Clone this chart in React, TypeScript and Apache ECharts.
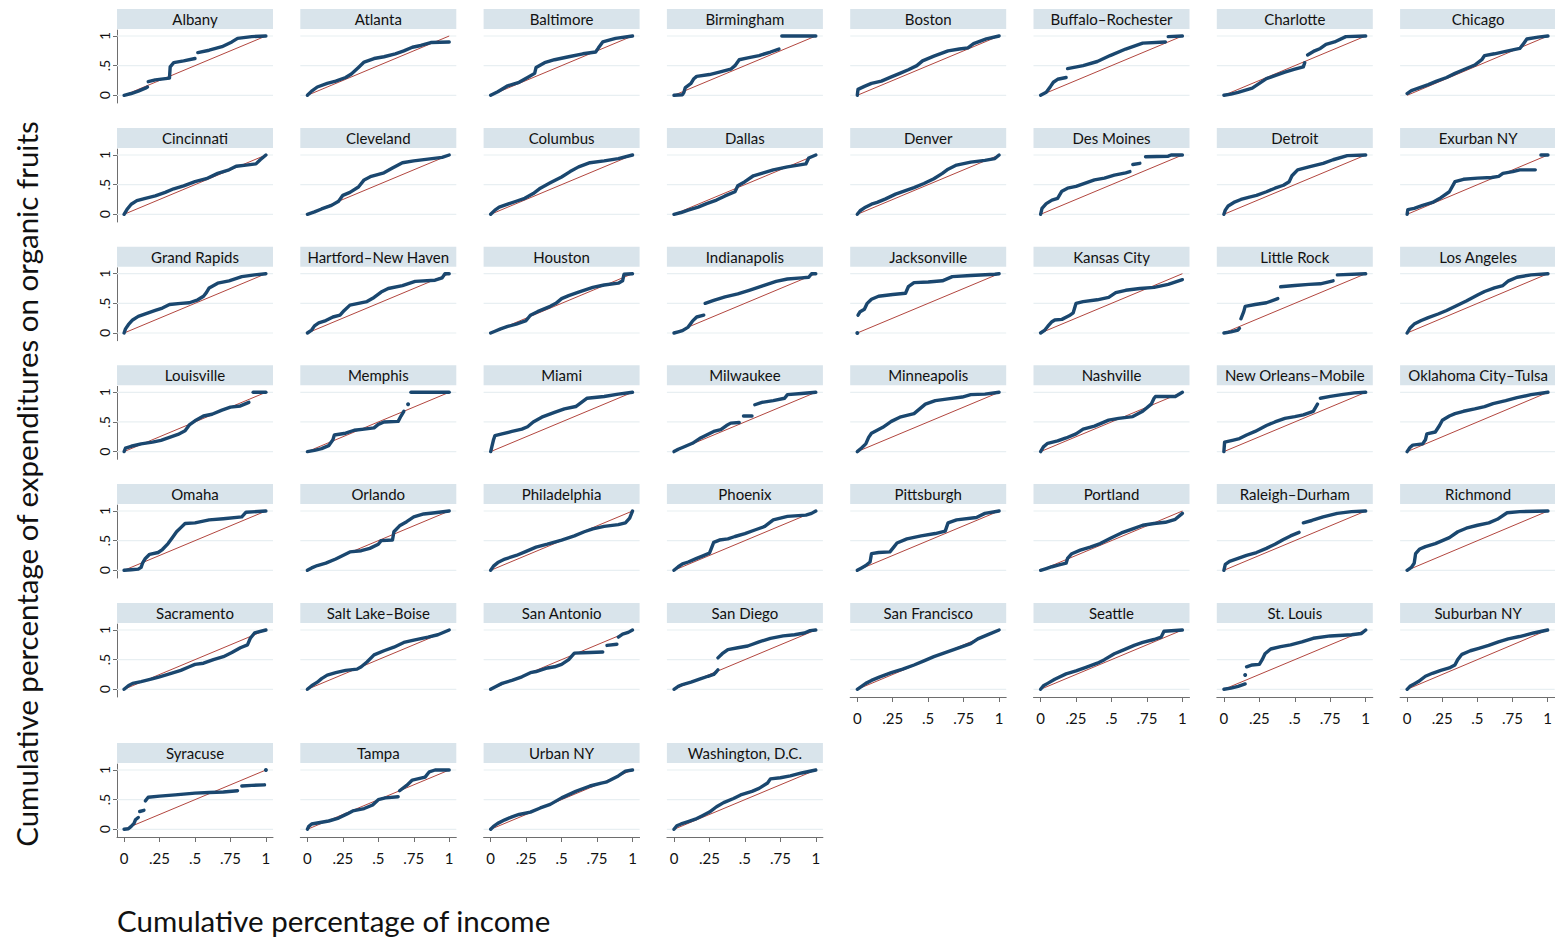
import React, { useEffect, useRef } from 'react';
import * as echarts from 'echarts';

type Pt = number[] | null;

const CITIES = [
  'Albany', 'Atlanta', 'Baltimore', 'Birmingham', 'Boston', 'Buffalo–Rochester', 'Charlotte', 'Chicago',
  'Cincinnati', 'Cleveland', 'Columbus', 'Dallas', 'Denver', 'Des Moines', 'Detroit', 'Exurban NY',
  'Grand Rapids', 'Hartford–New Haven', 'Houston', 'Indianapolis', 'Jacksonville', 'Kansas City', 'Little Rock', 'Los Angeles',
  'Louisville', 'Memphis', 'Miami', 'Milwaukee', 'Minneapolis', 'Nashville', 'New Orleans–Mobile', 'Oklahoma City–Tulsa',
  'Omaha', 'Orlando', 'Philadelphia', 'Phoenix', 'Pittsburgh', 'Portland', 'Raleigh–Durham', 'Richmond',
  'Sacramento', 'Salt Lake–Boise', 'San Antonio', 'San Diego', 'San Francisco', 'Seattle', 'St. Louis', 'Suburban NY',
  'Syracuse', 'Tampa', 'Urban NY', 'Washington, D.C.',
];

// null = visible gap in the curve
const ALBANY: Pt[] = [[0,0],[0.05,0.03],[0.1,0.07],[0.15,0.12],[0.165,0.14],null,[0.17,0.23],[0.22,0.26],[0.32,0.29],[0.325,0.48],[0.35,0.55],[0.42,0.58],[0.5,0.62],null,[0.52,0.72],[0.6,0.76],[0.69,0.82],[0.76,0.9],[0.8,0.96],[0.9,0.99],[1,1]];
const ATLANTA: Pt[] = [[0,0],[0.03,0.07],[0.07,0.14],[0.14,0.2],[0.2,0.24],[0.27,0.3],[0.31,0.36],[0.36,0.47],[0.4,0.56],[0.47,0.62],[0.54,0.65],[0.62,0.7],[0.68,0.75],[0.74,0.81],[0.8,0.84],[0.87,0.89],[1,0.9]];
const BALTIMORE: Pt[] = [[0,0],[0.05,0.06],[0.12,0.16],[0.2,0.22],[0.26,0.3],[0.31,0.37],[0.32,0.47],[0.38,0.55],[0.45,0.6],[0.55,0.65],[0.65,0.7],[0.74,0.73],[0.76,0.8],[0.79,0.9],[0.88,0.96],[1,1]];
const BIRMINGHAM: Pt[] = [[0,0],[0.06,0.01],[0.07,0.05],[0.08,0.13],[0.12,0.2],[0.14,0.28],[0.16,0.32],[0.25,0.35],[0.32,0.39],[0.4,0.44],[0.43,0.5],[0.46,0.6],[0.52,0.63],[0.6,0.67],[0.68,0.73],[0.74,0.78],null,[0.76,1],[1,1]];
const BOSTON: Pt[] = [[0,0],[0.005,0.1],[0.05,0.15],[0.1,0.2],[0.17,0.24],[0.24,0.31],[0.3,0.37],[0.36,0.43],[0.42,0.5],[0.46,0.58],[0.54,0.66],[0.64,0.75],[0.72,0.78],[0.78,0.8],[0.82,0.87],[0.91,0.95],[1,1]];
const BUFFALO: Pt[] = [[0,0],[0.04,0.05],[0.07,0.15],[0.09,0.22],[0.12,0.27],[0.18,0.3],null,[0.19,0.45],[0.3,0.5],[0.4,0.57],[0.49,0.67],[0.6,0.78],[0.72,0.88],[0.88,0.9],null,[0.9,0.99],[1,1]];
const CHARLOTTE: Pt[] = [[0,0],[0.05,0.02],[0.1,0.05],[0.2,0.12],[0.25,0.2],[0.3,0.28],[0.37,0.34],[0.43,0.39],[0.5,0.44],[0.56,0.48],[0.57,0.55],null,[0.59,0.68],[0.64,0.75],[0.68,0.79],[0.72,0.86],[0.78,0.9],[0.86,0.99],[1,1]];
const CHICAGO: Pt[] = [[0,0.03],[0.03,0.08],[0.08,0.12],[0.15,0.18],[0.21,0.24],[0.28,0.3],[0.34,0.37],[0.4,0.43],[0.48,0.51],[0.53,0.6],[0.55,0.67],[0.62,0.7],[0.7,0.74],[0.8,0.79],[0.82,0.85],[0.85,0.95],[0.93,0.98],[1,1]];
const CINCINNATI: Pt[] = [[0,0],[0.02,0.08],[0.05,0.17],[0.09,0.23],[0.15,0.27],[0.22,0.31],[0.29,0.37],[0.35,0.43],[0.42,0.48],[0.5,0.55],[0.58,0.6],[0.66,0.69],[0.74,0.75],[0.79,0.81],[0.86,0.83],[0.93,0.85],[0.96,0.92],[1,1]];
const CLEVELAND: Pt[] = [[0,0],[0.05,0.04],[0.1,0.09],[0.17,0.15],[0.22,0.22],[0.25,0.32],[0.3,0.37],[0.36,0.46],[0.4,0.58],[0.45,0.64],[0.54,0.7],[0.6,0.78],[0.67,0.87],[0.75,0.9],[0.85,0.93],[0.95,0.96],[1,1]];
const COLUMBUS: Pt[] = [[0,0],[0.03,0.07],[0.06,0.12],[0.12,0.17],[0.18,0.22],[0.24,0.27],[0.3,0.35],[0.35,0.44],[0.42,0.53],[0.5,0.63],[0.56,0.72],[0.62,0.8],[0.7,0.87],[0.8,0.9],[0.9,0.94],[1,1]];
const DALLAS: Pt[] = [[0,0],[0.05,0.03],[0.1,0.07],[0.17,0.12],[0.23,0.18],[0.3,0.24],[0.36,0.31],[0.43,0.38],[0.45,0.48],[0.5,0.55],[0.56,0.65],[0.63,0.7],[0.7,0.75],[0.8,0.8],[0.93,0.85],[0.95,0.95],[1,1]];
const DENVER: Pt[] = [[0,0],[0.02,0.06],[0.05,0.11],[0.1,0.17],[0.14,0.2],[0.2,0.26],[0.27,0.34],[0.34,0.4],[0.4,0.45],[0.47,0.52],[0.54,0.6],[0.6,0.69],[0.64,0.76],[0.7,0.83],[0.8,0.88],[0.9,0.91],[0.97,0.94],[1,1]];
const DES_MOINES: Pt[] = [[0,0],[0.01,0.1],[0.04,0.18],[0.08,0.24],[0.12,0.27],[0.15,0.39],[0.19,0.44],[0.25,0.47],[0.32,0.53],[0.38,0.58],[0.45,0.61],[0.52,0.66],[0.6,0.7],[0.63,0.72],null,[0.65,0.84],[0.7,0.86],null,[0.74,0.97],[0.9,0.98],[0.92,1],[1,1]];
const DETROIT: Pt[] = [[0,0],[0.01,0.07],[0.03,0.14],[0.07,0.2],[0.12,0.25],[0.18,0.29],[0.23,0.32],[0.3,0.38],[0.36,0.44],[0.42,0.49],[0.46,0.55],[0.48,0.65],[0.52,0.75],[0.6,0.8],[0.7,0.86],[0.77,0.92],[0.87,0.99],[1,1]];
const EXURBAN_NY: Pt[] = [[0,0],[0.005,0.08],[0.05,0.1],[0.11,0.15],[0.18,0.2],[0.24,0.28],[0.3,0.38],[0.34,0.55],[0.4,0.59],[0.5,0.61],[0.6,0.62],[0.65,0.64],[0.68,0.69],[0.75,0.72],[0.8,0.75],[0.91,0.75],null,[0.95,1],[1,1]];
const GRAND_RAPIDS: Pt[] = [[0,0],[0.01,0.07],[0.03,0.14],[0.06,0.22],[0.1,0.28],[0.16,0.33],[0.22,0.38],[0.27,0.42],[0.32,0.48],[0.4,0.5],[0.46,0.51],[0.52,0.56],[0.56,0.62],[0.58,0.68],[0.6,0.76],[0.66,0.84],[0.74,0.88],[0.83,0.95],[0.92,0.98],[1,1]];
const HARTFORD: Pt[] = [[0,0],[0.03,0.05],[0.05,0.12],[0.08,0.17],[0.13,0.21],[0.18,0.27],[0.23,0.3],[0.26,0.38],[0.3,0.47],[0.36,0.5],[0.42,0.53],[0.47,0.6],[0.52,0.69],[0.57,0.75],[0.67,0.8],[0.76,0.87],[0.9,0.89],[0.95,0.93],[0.97,1],[1,1]];
const HOUSTON: Pt[] = [[0,0],[0.03,0.03],[0.07,0.07],[0.12,0.11],[0.18,0.15],[0.25,0.21],[0.28,0.3],[0.33,0.36],[0.42,0.45],[0.46,0.5],[0.5,0.58],[0.55,0.63],[0.62,0.69],[0.72,0.77],[0.8,0.81],[0.9,0.84],[0.93,0.88],[0.94,0.99],[1,1]];
const INDIANAPOLIS: Pt[] = [[0,0],[0.03,0.02],[0.06,0.04],[0.1,0.1],[0.13,0.2],[0.16,0.27],[0.21,0.3],null,[0.22,0.5],[0.28,0.55],[0.36,0.61],[0.45,0.66],[0.53,0.72],[0.63,0.8],[0.72,0.87],[0.8,0.91],[0.9,0.93],[0.95,0.94],[0.97,1],[1,1]];
const JACKSONVILLE: Pt[] = [[0,0],null,[0.005,0.3],[0.02,0.36],[0.05,0.4],[0.07,0.5],[0.1,0.57],[0.15,0.62],[0.25,0.65],[0.34,0.67],[0.36,0.78],[0.4,0.85],[0.5,0.86],[0.6,0.88],[0.67,0.95],[0.8,0.97],[0.97,0.99],[1,1]];
const KANSAS_CITY: Pt[] = [[0,0],[0.03,0.05],[0.05,0.11],[0.08,0.19],[0.1,0.22],[0.15,0.23],[0.2,0.29],[0.23,0.34],[0.25,0.5],[0.3,0.53],[0.4,0.56],[0.48,0.6],[0.53,0.68],[0.6,0.72],[0.7,0.75],[0.8,0.77],[0.9,0.82],[1,0.9]];
const LITTLE_ROCK: Pt[] = [[0,0],[0.05,0.02],[0.1,0.05],[0.11,0.08],null,[0.12,0.24],[0.14,0.36],[0.15,0.45],[0.22,0.48],[0.3,0.51],[0.38,0.58],null,[0.4,0.78],[0.5,0.8],[0.6,0.82],[0.68,0.83],[0.77,0.88],null,[0.8,0.98],[1,1]];
const LOS_ANGELES: Pt[] = [[0,0],[0.02,0.08],[0.05,0.15],[0.1,0.21],[0.15,0.26],[0.22,0.32],[0.28,0.38],[0.35,0.46],[0.42,0.54],[0.5,0.64],[0.55,0.7],[0.62,0.76],[0.68,0.8],[0.72,0.88],[0.78,0.94],[0.88,0.98],[1,1]];
const LOUISVILLE: Pt[] = [[0,0],[0.01,0.06],[0.05,0.09],[0.12,0.13],[0.2,0.16],[0.26,0.19],[0.32,0.24],[0.38,0.29],[0.43,0.35],[0.46,0.45],[0.5,0.52],[0.56,0.6],[0.62,0.63],[0.69,0.7],[0.75,0.75],[0.82,0.77],[0.88,0.83],null,[0.91,1],[1,1]];
const MEMPHIS: Pt[] = [[0,0],[0.05,0.02],[0.1,0.05],[0.15,0.1],[0.18,0.2],[0.19,0.28],[0.27,0.31],[0.33,0.36],[0.4,0.38],[0.47,0.4],[0.5,0.46],[0.54,0.5],[0.64,0.51],[0.66,0.6],[0.68,0.68],null,[0.71,0.8],null,[0.73,1],[1,1]];
const MIAMI: Pt[] = [[0,0],[0.01,0.1],[0.02,0.2],[0.03,0.27],[0.08,0.3],[0.15,0.34],[0.22,0.38],[0.26,0.42],[0.3,0.5],[0.36,0.58],[0.45,0.66],[0.52,0.72],[0.6,0.76],[0.64,0.83],[0.68,0.9],[0.8,0.93],[0.9,0.97],[1,1]];
const MILWAUKEE: Pt[] = [[0,0],[0.03,0.04],[0.06,0.07],[0.13,0.14],[0.18,0.22],[0.23,0.28],[0.28,0.34],[0.33,0.37],[0.37,0.44],[0.4,0.48],[0.46,0.49],null,[0.49,0.6],[0.55,0.6],null,[0.57,0.79],[0.62,0.83],[0.7,0.86],[0.78,0.9],[0.8,0.96],[0.9,0.98],[1,1]];
const MINNEAPOLIS: Pt[] = [[0,0],[0.03,0.06],[0.06,0.13],[0.08,0.24],[0.1,0.31],[0.14,0.36],[0.18,0.41],[0.24,0.51],[0.3,0.58],[0.4,0.64],[0.44,0.72],[0.48,0.8],[0.55,0.86],[0.64,0.89],[0.74,0.92],[0.8,0.96],[0.9,0.97],[1,1]];
const NASHVILLE: Pt[] = [[0,0],[0.02,0.08],[0.05,0.14],[0.12,0.18],[0.18,0.23],[0.25,0.3],[0.3,0.38],[0.38,0.43],[0.48,0.53],[0.55,0.56],[0.65,0.59],[0.72,0.68],[0.78,0.8],[0.8,0.9],[0.81,0.93],[0.95,0.93],[1,1]];
const NEW_ORLEANS: Pt[] = [[0,0],[0.005,0.16],[0.06,0.19],[0.11,0.22],[0.16,0.28],[0.22,0.34],[0.3,0.44],[0.36,0.5],[0.43,0.56],[0.5,0.59],[0.56,0.62],[0.63,0.68],[0.66,0.8],null,[0.68,0.9],[0.75,0.93],[0.83,0.96],[0.92,0.99],[1,1]];
const OKLAHOMA: Pt[] = [[0,0],[0.02,0.07],[0.04,0.11],[0.11,0.13],[0.13,0.2],[0.14,0.3],[0.2,0.33],[0.23,0.44],[0.25,0.53],[0.3,0.6],[0.34,0.64],[0.4,0.68],[0.48,0.72],[0.55,0.76],[0.61,0.81],[0.7,0.86],[0.78,0.91],[0.88,0.96],[1,1]];
const OMAHA: Pt[] = [[0,0],[0.05,0.01],[0.1,0.02],[0.12,0.05],[0.13,0.12],[0.15,0.2],[0.18,0.27],[0.24,0.3],[0.27,0.35],[0.31,0.45],[0.34,0.55],[0.37,0.65],[0.4,0.72],[0.43,0.79],[0.5,0.8],[0.6,0.85],[0.7,0.87],[0.83,0.9],[0.86,0.98],[1,1]];
const ORLANDO: Pt[] = [[0,0],[0.03,0.04],[0.07,0.08],[0.13,0.12],[0.2,0.19],[0.25,0.25],[0.3,0.31],[0.38,0.33],[0.44,0.37],[0.5,0.44],[0.52,0.5],[0.6,0.51],[0.61,0.65],[0.65,0.75],[0.7,0.82],[0.75,0.9],[0.82,0.95],[0.9,0.97],[1,1]];
const PHILADELPHIA: Pt[] = [[0,0],[0.02,0.07],[0.05,0.13],[0.1,0.19],[0.18,0.25],[0.25,0.32],[0.32,0.39],[0.4,0.44],[0.5,0.51],[0.59,0.58],[0.66,0.65],[0.72,0.7],[0.8,0.74],[0.9,0.77],[0.95,0.8],[0.98,0.88],[1,1]];
const PHOENIX: Pt[] = [[0,0],[0.03,0.06],[0.06,0.11],[0.1,0.14],[0.16,0.2],[0.2,0.24],[0.25,0.29],[0.26,0.35],[0.28,0.47],[0.32,0.51],[0.38,0.53],[0.43,0.57],[0.5,0.62],[0.57,0.68],[0.64,0.74],[0.7,0.85],[0.8,0.91],[0.93,0.93],[0.97,0.96],[1,1]];
const PITTSBURGH: Pt[] = [[0,0],[0.03,0.04],[0.06,0.08],[0.09,0.14],[0.1,0.28],[0.15,0.3],[0.23,0.31],[0.26,0.4],[0.28,0.46],[0.35,0.53],[0.45,0.58],[0.55,0.62],[0.62,0.66],[0.64,0.8],[0.7,0.85],[0.84,0.89],[0.9,0.96],[1,1]];
const PORTLAND: Pt[] = [[0,0],[0.04,0.03],[0.08,0.06],[0.13,0.09],[0.18,0.12],[0.19,0.2],[0.22,0.28],[0.28,0.34],[0.35,0.39],[0.42,0.45],[0.5,0.55],[0.57,0.63],[0.65,0.7],[0.72,0.76],[0.8,0.79],[0.88,0.81],[0.95,0.86],[1,0.96]];
const RALEIGH: Pt[] = [[0,0],[0.01,0.1],[0.04,0.15],[0.1,0.2],[0.16,0.25],[0.23,0.3],[0.3,0.37],[0.36,0.44],[0.42,0.52],[0.47,0.58],[0.53,0.64],null,[0.56,0.8],[0.62,0.84],[0.7,0.9],[0.8,0.96],[0.9,0.99],[1,1]];
const RICHMOND: Pt[] = [[0,0],[0.03,0.05],[0.05,0.12],[0.06,0.28],[0.09,0.36],[0.13,0.4],[0.2,0.45],[0.25,0.5],[0.3,0.55],[0.36,0.65],[0.42,0.71],[0.5,0.76],[0.58,0.8],[0.64,0.86],[0.71,0.97],[0.8,0.99],[1,1]];
const SACRAMENTO: Pt[] = [[0,0],[0.03,0.06],[0.06,0.1],[0.12,0.13],[0.19,0.17],[0.25,0.21],[0.32,0.26],[0.4,0.32],[0.46,0.38],[0.5,0.42],[0.56,0.44],[0.63,0.5],[0.7,0.55],[0.76,0.62],[0.82,0.7],[0.87,0.75],[0.89,0.86],[0.92,0.95],[1,1]];
const SALT_LAKE: Pt[] = [[0,0],[0.03,0.06],[0.07,0.12],[0.1,0.18],[0.14,0.24],[0.2,0.28],[0.27,0.32],[0.35,0.34],[0.38,0.38],[0.42,0.46],[0.47,0.58],[0.54,0.65],[0.61,0.71],[0.68,0.79],[0.75,0.83],[0.85,0.88],[0.92,0.92],[1,1]];
const SAN_ANTONIO: Pt[] = [[0,0],[0.03,0.04],[0.08,0.1],[0.15,0.15],[0.22,0.21],[0.28,0.28],[0.32,0.3],[0.4,0.36],[0.45,0.38],[0.5,0.42],[0.55,0.5],[0.59,0.61],[0.7,0.62],[0.79,0.63],null,[0.82,0.74],[0.89,0.76],null,[0.9,0.88],[0.93,0.93],[0.97,0.96],[1,1]];
const SAN_DIEGO: Pt[] = [[0,0],[0.03,0.05],[0.06,0.08],[0.12,0.12],[0.18,0.17],[0.24,0.22],[0.28,0.25],[0.3,0.3],[0.31,0.33],null,[0.31,0.53],[0.34,0.6],[0.38,0.67],[0.45,0.7],[0.52,0.73],[0.6,0.8],[0.68,0.86],[0.77,0.9],[0.85,0.92],[0.92,0.95],[0.96,0.99],[1,1]];
const SAN_FRANCISCO: Pt[] = [[0,0],[0.03,0.05],[0.06,0.1],[0.1,0.15],[0.16,0.21],[0.24,0.28],[0.32,0.34],[0.4,0.41],[0.47,0.48],[0.54,0.55],[0.6,0.6],[0.67,0.66],[0.74,0.72],[0.8,0.77],[0.85,0.85],[0.93,0.93],[1,1]];
const SEATTLE: Pt[] = [[0,0],[0.02,0.06],[0.05,0.1],[0.1,0.17],[0.18,0.26],[0.25,0.31],[0.32,0.37],[0.4,0.44],[0.45,0.5],[0.52,0.6],[0.59,0.67],[0.66,0.74],[0.72,0.79],[0.8,0.84],[0.85,0.88],[0.87,0.98],[1,1]];
const ST_LOUIS: Pt[] = [[0,0],[0.05,0.02],[0.1,0.05],[0.15,0.09],null,[0.15,0.24],null,[0.16,0.38],[0.2,0.41],[0.25,0.42],[0.27,0.5],[0.29,0.6],[0.33,0.68],[0.4,0.72],[0.47,0.75],[0.55,0.8],[0.63,0.86],[0.75,0.9],[0.9,0.92],[0.97,0.94],[1,1]];
const SUBURBAN_NY: Pt[] = [[0,0],[0.02,0.05],[0.05,0.09],[0.08,0.13],[0.13,0.22],[0.18,0.27],[0.24,0.32],[0.3,0.36],[0.34,0.41],[0.36,0.5],[0.39,0.59],[0.45,0.65],[0.51,0.69],[0.58,0.74],[0.65,0.8],[0.72,0.85],[0.8,0.89],[0.9,0.95],[1,1]];
const SYRACUSE: Pt[] = [[0,0],[0.03,0.01],[0.05,0.05],[0.07,0.1],[0.08,0.16],[0.1,0.2],null,[0.11,0.3],[0.14,0.32],null,[0.15,0.48],[0.17,0.54],[0.25,0.56],[0.36,0.58],[0.5,0.61],[0.6,0.62],[0.7,0.63],[0.8,0.65],null,[0.83,0.73],[0.9,0.74],[0.99,0.75],null,[1,1]];
const TAMPA: Pt[] = [[0,0],[0.01,0.05],[0.03,0.09],[0.08,0.11],[0.15,0.14],[0.22,0.19],[0.28,0.26],[0.32,0.31],[0.4,0.35],[0.46,0.41],[0.5,0.5],[0.55,0.53],[0.64,0.55],null,[0.65,0.65],[0.7,0.74],[0.74,0.83],[0.83,0.88],[0.86,0.97],[0.9,1],[1,1]];
const URBAN_NY: Pt[] = [[0,0],[0.02,0.05],[0.05,0.1],[0.1,0.16],[0.15,0.21],[0.2,0.25],[0.28,0.29],[0.35,0.36],[0.42,0.42],[0.5,0.53],[0.6,0.64],[0.7,0.73],[0.78,0.78],[0.82,0.8],[0.9,0.9],[0.95,0.98],[1,1]];
const WASHINGTON: Pt[] = [[0,0],[0.02,0.06],[0.05,0.09],[0.1,0.13],[0.15,0.17],[0.2,0.23],[0.25,0.29],[0.3,0.38],[0.35,0.45],[0.42,0.52],[0.47,0.58],[0.55,0.64],[0.6,0.69],[0.66,0.78],[0.68,0.85],[0.75,0.87],[0.82,0.9],[0.9,0.95],[1,1]];

const CURVES: Pt[][] = [
  ALBANY, ATLANTA, BALTIMORE, BIRMINGHAM, BOSTON, BUFFALO, CHARLOTTE, CHICAGO,
  CINCINNATI, CLEVELAND, COLUMBUS, DALLAS, DENVER, DES_MOINES, DETROIT, EXURBAN_NY,
  GRAND_RAPIDS, HARTFORD, HOUSTON, INDIANAPOLIS, JACKSONVILLE, KANSAS_CITY, LITTLE_ROCK, LOS_ANGELES,
  LOUISVILLE, MEMPHIS, MIAMI, MILWAUKEE, MINNEAPOLIS, NASHVILLE, NEW_ORLEANS, OKLAHOMA,
  OMAHA, ORLANDO, PHILADELPHIA, PHOENIX, PITTSBURGH, PORTLAND, RALEIGH, RICHMOND,
  SACRAMENTO, SALT_LAKE, SAN_ANTONIO, SAN_DIEGO, SAN_FRANCISCO, SEATTLE, ST_LOUIS, SUBURBAN_NY,
  SYRACUSE, TAMPA, URBAN_NY, WASHINGTON,
];

const EQUALITY_LINE = [[0, 0], [1, 1]];
const X_TICKS = [0, 0.25, 0.5, 0.75, 1];
const X_TICK_LABELS = ['0', '.25', '.5', '.75', '1'];
const Y_TICKS = [0, 0.5, 1];
const Y_TICK_LABELS = ['0', '.5', '1'];

const X_TITLE = 'Cumulative percentage of income';
const Y_TITLE = 'Cumulative percentage of expenditures on organic fruits';

// layout
const W = 1555;
const H = 937;
const COLS = 8;
const COL_LEFT = 117;
const COL_STEP = 183.3;
const PANEL_W = 156;
const ROW_ONE = [36, 155, 273.7, 392.3, 511, 630, 770];
const UNIT = 59.3;
const X_MIN = -0.05;
const X_MAX = 1.05;
const Y_MIN = -0.13;
const Y_MAX = 1.1;

const CURVE_COLOR = '#1a476f';
const DIAG_COLOR = '#b2463f';
const GRID_COLOR = '#e8eff2';
const HEADER_COLOR = '#d9e4eb';
const AXIS_COLOR = '#6e6e6e';
const FONT = 'Lato, "Open Sans", sans-serif';

function splitSegments(pts: Pt[]): number[][][] {
  const segs: number[][][] = [];
  let cur: number[][] = [];
  for (const p of pts) {
    if (p === null) {
      if (cur.length) segs.push(cur);
      cur = [];
    } else cur.push(p);
  }
  if (cur.length) segs.push(cur);
  return segs;
}

function labelFor(ticks: number[], labels: string[]) {
  return (v: number) => {
    const k = ticks.findIndex((t) => Math.abs(t - v) < 1e-6);
    return k >= 0 ? labels[k] : '';
  };
}

function buildOption() {
  const grid: any[] = [];
  const xAxis: any[] = [];
  const yAxis: any[] = [];
  const series: any[] = [];
  const graphic: any[] = [];

  CITIES.forEach((name, i) => {
    const row = Math.floor(i / COLS);
    const col = i % COLS;
    const left = COL_LEFT + col * COL_STEP;
    const y1 = ROW_ONE[row];
    const top = y1 - (Y_MAX - 1) * UNIT;
    const height = (Y_MAX - Y_MIN) * UNIT;
    const isBottom = row === 6 || (row === 5 && col >= 4);
    const isLeft = col === 0;

    grid.push({ left, top, width: PANEL_W, height, containLabel: false });

    xAxis.push({
      type: 'value',
      gridIndex: i,
      min: X_MIN,
      max: X_MAX,
      splitLine: { show: false },
      axisLine: { show: isBottom, onZero: false, lineStyle: { color: AXIS_COLOR, width: 1 } },
      axisTick: { show: isBottom, customValues: X_TICKS, length: 5, lineStyle: { color: AXIS_COLOR } },
      axisLabel: {
        show: isBottom,
        customValues: X_TICKS,
        formatter: labelFor(X_TICKS, X_TICK_LABELS),
        margin: 13,
        fontSize: 15,
        color: '#111',
        fontFamily: FONT,
      },
    });

    yAxis.push({
      type: 'value',
      gridIndex: i,
      min: Y_MIN,
      max: Y_MAX,
      splitLine: { show: false },
      axisLine: { show: isLeft, onZero: false, lineStyle: { color: AXIS_COLOR, width: 1 } },
      axisTick: { show: isLeft, customValues: Y_TICKS, length: 4, lineStyle: { color: AXIS_COLOR } },
      axisLabel: {
        show: isLeft,
        customValues: Y_TICKS,
        formatter: labelFor(Y_TICKS, Y_TICK_LABELS),
        rotate: 90,
        margin: 6,
        fontSize: 14,
        color: '#111',
        fontFamily: FONT,
      },
    });

    // grid lines at y ticks
    Y_TICKS.forEach((t) => {
      series.push({
        type: 'line',
        xAxisIndex: i,
        yAxisIndex: i,
        data: [[X_MIN, t], [X_MAX, t]],
        showSymbol: false,
        silent: true,
        lineStyle: { color: GRID_COLOR, width: 1.2 },
        z: 1,
      });
    });

    // equality diagonal
    series.push({
      type: 'line',
      xAxisIndex: i,
      yAxisIndex: i,
      data: EQUALITY_LINE,
      showSymbol: false,
      silent: true,
      lineStyle: { color: DIAG_COLOR, width: 1 },
      z: 2,
    });

    // concentration curve segments
    splitSegments(CURVES[i]).forEach((seg) => {
      series.push({
        type: 'line',
        xAxisIndex: i,
        yAxisIndex: i,
        data: seg,
        symbol: 'circle',
        symbolSize: 4,
        showSymbol: seg.length === 1,
        silent: true,
        itemStyle: { color: CURVE_COLOR },
        lineStyle: { color: CURVE_COLOR, width: 3.4, cap: 'round', join: 'round' },
        z: 3,
      });
    });

    // header strip
    graphic.push({
      type: 'rect',
      shape: { x: left, y: y1 - 27, width: PANEL_W, height: 20 },
      style: { fill: HEADER_COLOR },
      silent: true,
    });
    graphic.push({
      type: 'text',
      x: left + PANEL_W / 2,
      y: y1 - 17,
      style: {
        text: name,
        align: 'center',
        verticalAlign: 'middle',
        fontSize: 15,
        fontFamily: FONT,
        fill: '#111',
      },
      silent: true,
    });
  });

  graphic.push({
    type: 'text',
    x: 26,
    y: 484,
    rotation: Math.PI / 2,
    style: {
      text: Y_TITLE,
      align: 'center',
      verticalAlign: 'middle',
      fontSize: 29.5,
      fontFamily: FONT,
      fill: '#111',
    },
    silent: true,
  });
  graphic.push({
    type: 'text',
    x: 117,
    y: 920,
    style: {
      text: X_TITLE,
      align: 'left',
      verticalAlign: 'middle',
      fontSize: 29.5,
      fontFamily: FONT,
      fill: '#111',
    },
    silent: true,
  });

  return {
    animation: false,
    backgroundColor: '#ffffff',
    grid,
    xAxis,
    yAxis,
    series,
    graphic,
  };
}

export default function App() {
  const ref = useRef<HTMLDivElement>(null);
  useEffect(() => {
    document.body.style.margin = '0';
    if (!ref.current) return;
    const chart = echarts.init(ref.current, undefined, { renderer: 'svg' });
    chart.setOption(buildOption());
    return () => chart.dispose();
  }, []);
  return <div ref={ref} style={{ width: W, height: H }} />;
}
